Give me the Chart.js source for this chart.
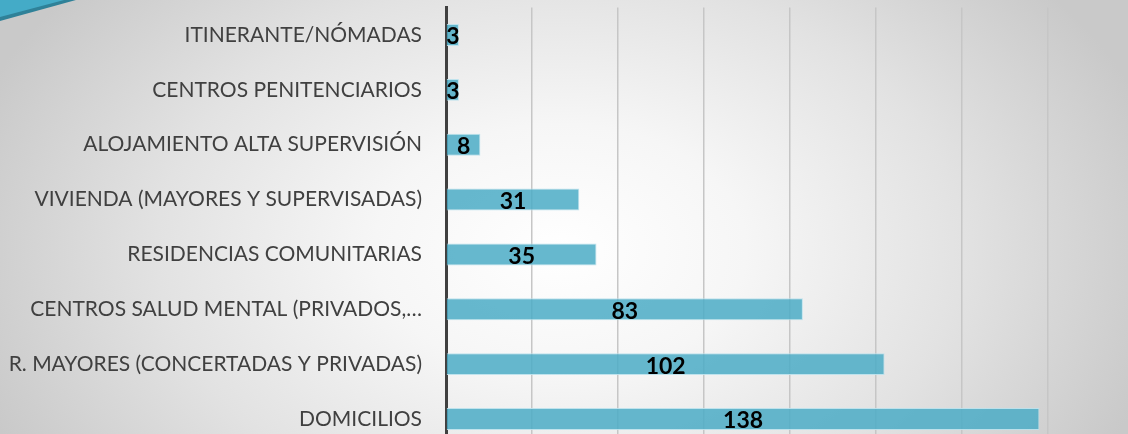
<!DOCTYPE html>
<html>
<head>
<meta charset="utf-8">
<script src="https://cdn.jsdelivr.net/npm/chart.js@4.4.0/dist/chart.umd.min.js"></script>
<style>
  html, body { margin: 0; padding: 0; overflow: hidden; }
  body {
    width: 1128px; height: 434px;
    background: radial-gradient(ellipse 620px 420px at 560px 250px, #ffffff 0%, #f6f6f6 30%, #e2e2e2 65%, #c9c9c9 100%);
  }
  #wrap { position: relative; width: 1128px; height: 464px; margin-top: -5px; }
</style>
</head>
<body>
<div id="wrap"><canvas id="chart"></canvas></div>
<script>
// categorias (de arriba a abajo) y valores
const categorias = [
  "ITINERANTE/NÓMADAS",
  "CENTROS PENITENCIARIOS",
  "ALOJAMIENTO ALTA SUPERVISIÓN",
  "VIVIENDA (MAYORES Y SUPERVISADAS)",
  "RESIDENCIAS COMUNITARIAS",
  "CENTROS SALUD MENTAL (PRIVADOS,…",
  "R. MAYORES (CONCERTADAS Y PRIVADAS)",
  "DOMICILIOS"
];
const valores = [3, 3, 8, 31, 35, 83, 102, 138];

// esquina decorativa arriba a la izquierda (el canvas empieza 5px por encima)
const esquina = {
  id: "esquina",
  beforeDraw(chart) {
    const c = chart.ctx;
    c.save();
    c.fillStyle = "#2f8198";
    c.beginPath();
    c.moveTo(0, 0); c.lineTo(94, 0); c.lineTo(0, 26); c.closePath();
    c.fill();
    c.fillStyle = "#44abc7";
    c.beginPath();
    c.moveTo(0, 0); c.lineTo(83, 0); c.lineTo(0, 22); c.closePath();
    c.fill();
    c.restore();
  }
};

// etiquetas de datos centradas en la barra
const etiquetas = {
  id: "etiquetas",
  afterDatasetsDraw(chart) {
    const c = chart.ctx;
    const meta = chart.getDatasetMeta(0);
    c.save();
    c.font = "bold 23px Lato";
    c.fillStyle = "#000";
    c.textAlign = "center";
    c.textBaseline = "middle";
    meta.data.forEach((bar, i) => {
      const x = (bar.x + bar.base) / 2;
      c.fillText(String(valores[i]), x, bar.y + 2);
    });
    c.restore();
  }
};

const ctx = document.getElementById("chart").getContext("2d");
new Chart(ctx, {
  type: "bar",
  data: {
    labels: categorias,
    datasets: [{
      data: valores,
      backgroundColor: "rgba(75,172,198,0.85)",
      borderColor: "rgba(185,225,236,0.9)",
      borderWidth: 1,
      barPercentage: 0.4,
      categoryPercentage: 1
    }]
  },
  options: {
    indexAxis: "y",
    responsive: true,
    maintainAspectRatio: false,
    animation: false,
    layout: { padding: { top: 7, bottom: 7, left: 0, right: 80 } },
    plugins: { legend: { display: false }, tooltip: { enabled: false } },
    scales: {
      x: {
        min: 0, max: 140,
        ticks: { display: false, stepSize: 20 },
        grid: { color: "#c6c6c6", lineWidth: 1.5, drawTicks: false },
        border: { display: false }
      },
      y: {
        afterFit(scale) { scale.width = 446; },
        ticks: { color: "#404040", font: { family: "Lato", size: 21 }, padding: 0 },
        grid: { color: "rgba(0,0,0,0)", drawOnChartArea: false, drawTicks: true, tickLength: 24 },
        border: { display: true, color: "#404040", width: 3 }
      }
    }
  },
  plugins: [esquina, etiquetas]
});
</script>
</body>
</html>
